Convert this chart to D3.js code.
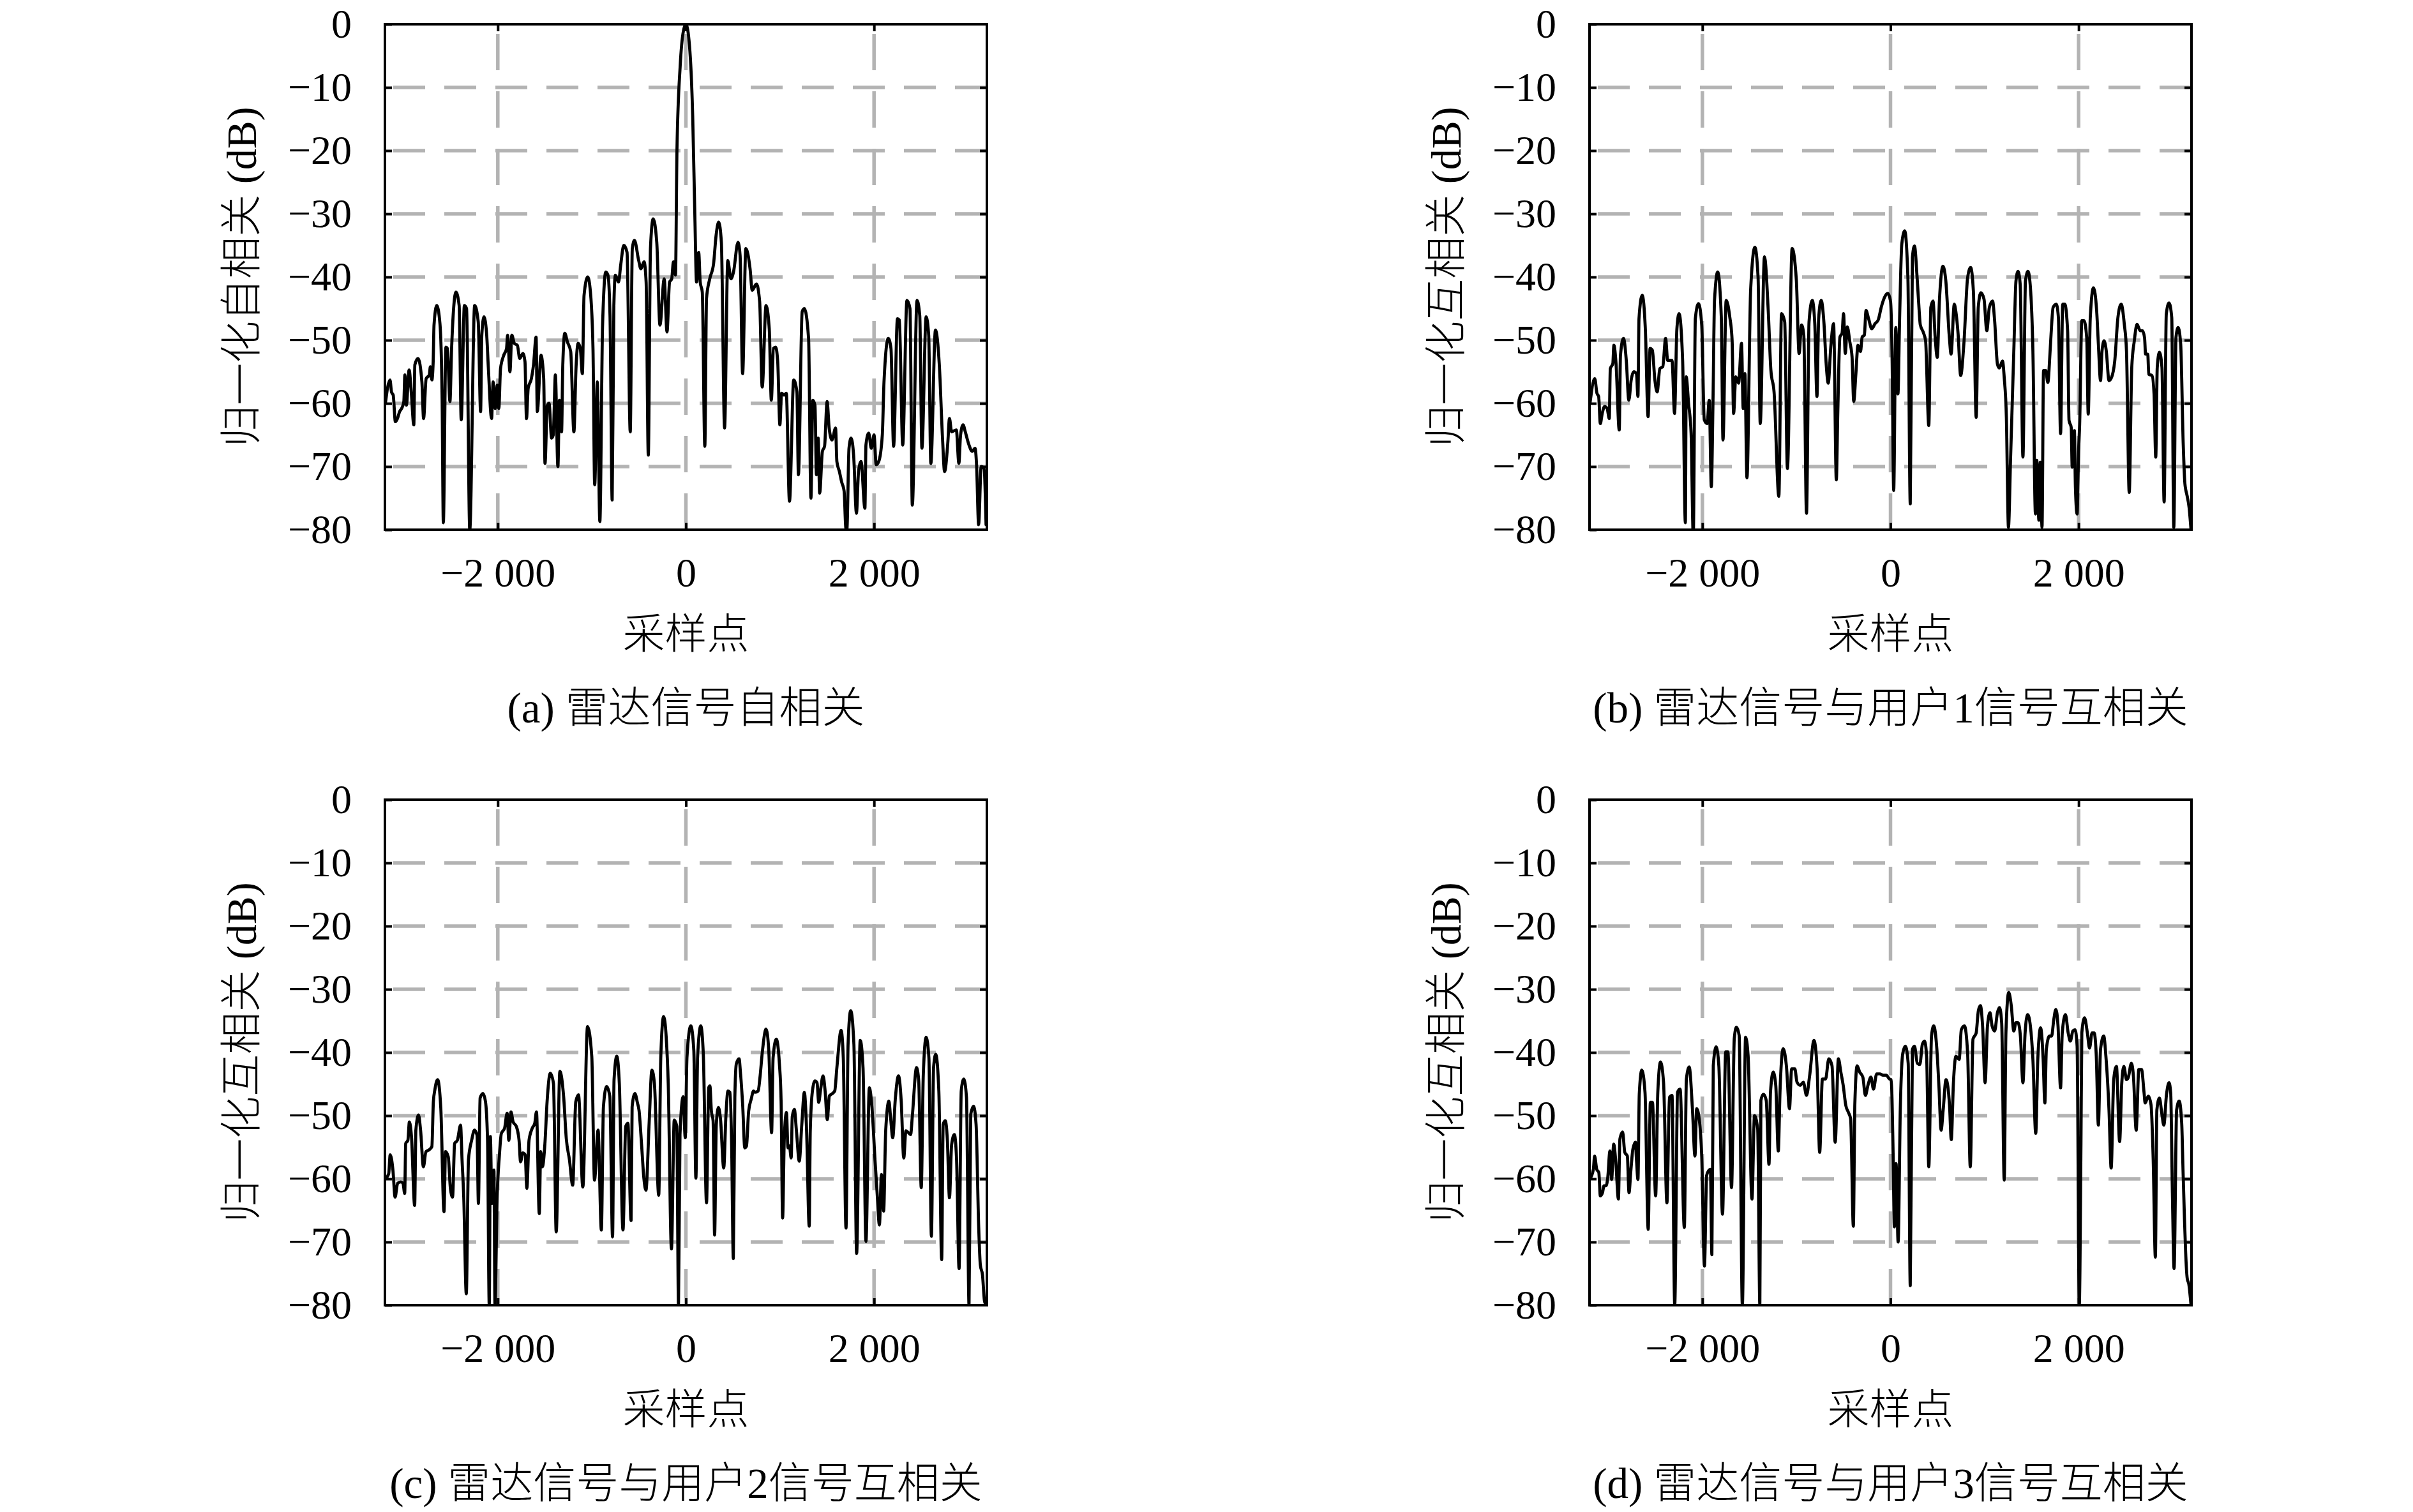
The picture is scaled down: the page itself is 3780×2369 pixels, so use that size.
<!DOCTYPE html>
<html><head><meta charset="utf-8">
<script src="https://cdn.jsdelivr.net/npm/d3@7"></script>
<style>html,body{margin:0;padding:0;background:#fff;}svg{display:block;}</style>
</head><body>
<script>
// ---------------- data ----------------
const xTickValues = [-2000, 0, 2000];
const xTickLabels = ["\u22122 000", "0", "2 000"];
const yTickValues = [0, -10, -20, -30, -40, -50, -60, -70, -80];
const yTickLabels = ["0", "\u221210", "\u221220", "\u221230", "\u221240", "\u221250", "\u221260", "\u221270", "\u221280"];
const xDomain = [-3200, 3200];
const yDomain = [-80, 0];

const captions = ["(a) 雷达信号自相关", "(b) 雷达信号与用户1信号互相关", "(c) 雷达信号与用户2信号互相关", "(d) 雷达信号与用户3信号互相关"];
const yLabels = ["归一化自相关 (dB)", "归一化互相关 (dB)", "归一化互相关 (dB)", "归一化互相关 (dB)"];
const xLabel = "采样点";

const radarAuto = [[-3195,-60],[-3146,-56.3],[-3130,-58.2],[-3112,-58.7],[-3089,-62.9],[-3067,-62.4],[-3044,-61.3],[-3022,-60.8],[-2999,-59.7],[-2988,-55.5],[-2972,-60.3],[-2943,-54.7],[-2920,-58.2],[-2893,-63.4],[-2882,-53.9],[-2848,-52.9],[-2807,-56.6],[-2789,-62.4],[-2762,-56.1],[-2728,-55.5],[-2717,-54.2],[-2701,-56.3],[-2687,-53.4],[-2678,-47.6],[-2649,-44.5],[-2615,-47.4],[-2592,-59.2],[-2579,-78.9],[-2552,-51.1],[-2536,-51.3],[-2509,-59.7],[-2491,-51.3],[-2445,-42.4],[-2411,-44.5],[-2389,-62.6],[-2355,-44.5],[-2332,-45],[-2298,-80],[-2246,-44.5],[-2208,-47.1],[-2183,-61.3],[-2170,-49.2],[-2147,-46.3],[-2118,-49.2],[-2100,-54.5],[-2066,-62.4],[-2050,-56.6],[-2027,-60.8],[-2005,-57.1],[-1989,-60.8],[-1971,-54.5],[-1937,-52.4],[-1907,-51.3],[-1896,-49.2],[-1871,-55],[-1851,-49.2],[-1824,-50.5],[-1792,-50.8],[-1767,-52.9],[-1733,-52.1],[-1711,-53.4],[-1695,-62.4],[-1677,-57.6],[-1643,-56.1],[-1620,-53.9],[-1593,-49.5],[-1580,-61.3],[-1541,-52.4],[-1512,-56.1],[-1498,-69.5],[-1474,-60.3],[-1455,-60],[-1428,-65.5],[-1410,-65],[-1388,-55.5],[-1361,-70],[-1345,-59.5],[-1322,-64.5],[-1309,-53.9],[-1288,-48.9],[-1259,-50.3],[-1225,-51.8],[-1191,-64.5],[-1168,-54.2],[-1146,-50.5],[-1123,-51.3],[-1101,-55.3],[-1083,-42.9],[-1044,-40],[-1015,-42.4],[-988,-51.3],[-970,-72.9],[-942,-56.6],[-915,-78.7],[-886,-47.6],[-852,-39.2],[-829,-39.7],[-807,-46.1],[-784,-75.3],[-766,-44.5],[-750,-39.7],[-716,-40.8],[-694,-38.2],[-660,-35],[-626,-36.1],[-592,-64.5],[-570,-35.5],[-547,-34.2],[-502,-37.4],[-479,-38.7],[-445,-37.6],[-423,-40.8],[-400,-68.2],[-377,-35.5],[-348,-30.8],[-310,-34.5],[-276,-47.6],[-231,-40.3],[-201,-48.7],[-174,-40.8],[-151,-40.3],[-133,-37.6],[-111,-39.7],[-95,-19.7],[-61,-6.6],[-27,-1.1],[0,0],[38,-3.4],[72,-14.5],[95,-30.3],[113,-40.8],[136,-36.1],[152,-40.8],[174,-42.4],[201,-66.8],[219,-43.4],[253,-40.3],[294,-37.9],[321,-33.4],[348,-31.3],[377,-34.5],[411,-63.9],[445,-37.4],[479,-40.3],[506,-39.2],[554,-34.5],[576,-36.6],[603,-55.3],[637,-35.5],[682,-38.7],[705,-42.1],[750,-41.1],[784,-43.9],[811,-57.4],[852,-44.5],[886,-48.2],[908,-59.5],[931,-51.3],[954,-51.1],[976,-53.4],[999,-63.4],[1017,-58.4],[1044,-58.7],[1067,-58.4],[1101,-75.5],[1146,-56.3],[1180,-58.2],[1196,-71.3],[1236,-45.5],[1259,-45],[1304,-49.7],[1329,-75],[1349,-59.5],[1372,-60.3],[1388,-71.3],[1406,-65.5],[1422,-74.2],[1451,-67.6],[1474,-66.8],[1501,-59.7],[1523,-63.9],[1553,-65.8],[1591,-63.9],[1605,-69.2],[1632,-70.8],[1655,-72.4],[1682,-73.9],[1700,-79.7],[1711,-80],[1734,-67.1],[1756,-65.5],[1783,-68.2],[1813,-77.4],[1835,-70.8],[1862,-69.2],[1903,-76.6],[1914,-66.6],[1943,-64.7],[1971,-67.1],[2000,-65],[2023,-69.7],[2050,-69.2],[2088,-65],[2106,-56.6],[2151,-49.7],[2180,-51.3],[2208,-66.8],[2249,-46.6],[2269,-46.8],[2305,-66.6],[2350,-43.7],[2382,-45],[2407,-76.1],[2457,-43.7],[2486,-46.1],[2509,-67.1],[2554,-46.3],[2581,-49.2],[2604,-69.5],[2653,-48.4],[2694,-53.9],[2728,-65.5],[2750,-70.8],[2784,-66.3],[2802,-62.4],[2825,-64.5],[2875,-64.2],[2902,-69.5],[2920,-65],[2947,-63.4],[2970,-64.5],[3010,-66.6],[3044,-67.6],[3074,-67.1],[3090,-69.7],[3112,-79.2],[3139,-70],[3169,-70.3],[3191,-79.2]];

const crossUser1 = [[-3195,-60],[-3144,-56.1],[-3121,-58.4],[-3103,-58.9],[-3085,-63.2],[-3065,-61.6],[-3040,-60.5],[-3013,-60.8],[-2990,-62.4],[-2979,-54.5],[-2952,-53.7],[-2941,-50.8],[-2918,-53.7],[-2884,-64.2],[-2871,-52.4],[-2839,-49.7],[-2809,-53.2],[-2782,-59.5],[-2757,-56.3],[-2730,-55],[-2701,-55.3],[-2685,-58.9],[-2674,-46.6],[-2640,-42.9],[-2606,-48.4],[-2577,-62.1],[-2556,-51.3],[-2532,-51.6],[-2505,-56.3],[-2481,-58.2],[-2452,-54.5],[-2421,-54.2],[-2391,-49.7],[-2369,-53.2],[-2323,-53.2],[-2296,-61.6],[-2271,-48.2],[-2248,-45.8],[-2210,-53.2],[-2181,-78.9],[-2172,-55.8],[-2147,-60],[-2120,-64.7],[-2097,-81],[-2075,-46.6],[-2041,-44.2],[-2007,-47.6],[-1980,-62.6],[-1950,-63.2],[-1927,-59.5],[-1905,-73.2],[-1887,-59.5],[-1871,-43.7],[-1837,-39.2],[-1799,-46.3],[-1781,-65.8],[-1747,-43.7],[-1709,-46.3],[-1684,-50],[-1668,-61.6],[-1645,-55.8],[-1615,-56.8],[-1584,-50.5],[-1566,-60.8],[-1548,-55.3],[-1526,-71.8],[-1487,-42.1],[-1442,-35.3],[-1408,-40],[-1385,-63.2],[-1340,-36.8],[-1300,-45.3],[-1272,-54.7],[-1238,-58.2],[-1187,-74.7],[-1159,-45.8],[-1125,-47.1],[-1096,-70.3],[-1046,-35.5],[-1001,-40.5],[-972,-52.1],[-945,-47.6],[-922,-49.2],[-893,-77.4],[-866,-47.1],[-832,-43.7],[-805,-47.4],[-782,-58.9],[-764,-46.6],[-737,-43.7],[-707,-47.4],[-684,-53.7],[-662,-56.8],[-635,-51.1],[-605,-47.4],[-576,-72.1],[-560,-61.1],[-538,-49.5],[-515,-48.9],[-499,-45.8],[-481,-52.1],[-459,-47.9],[-432,-50.3],[-409,-52.6],[-391,-59.7],[-368,-55.3],[-346,-50.8],[-319,-51.8],[-301,-49.5],[-278,-49.2],[-260,-45.3],[-233,-46.6],[-199,-48.2],[-165,-47.4],[-131,-46.8],[-97,-44.7],[-63,-43.2],[-29,-42.6],[0,-43.8],[16,-51.7],[34,-73.8],[56,-48],[79,-58.5],[97,-46.4],[120,-34.8],[151,-32.7],[185,-40.1],[210,-75.9],[233,-36.9],[255,-35.1],[283,-40.1],[305,-45.4],[316,-47.5],[350,-48.8],[373,-50.1],[407,-63.5],[429,-44.8],[452,-43.8],[475,-49.6],[497,-52.7],[520,-43.8],[558,-38.3],[588,-40.6],[626,-49.6],[644,-52.2],[678,-44.3],[694,-45.4],[719,-49.1],[746,-55.6],[780,-50.6],[820,-40.1],[852,-38.5],[881,-42.2],[911,-62.2],[933,-44.8],[961,-42.5],[994,-43.5],[1024,-48.5],[1051,-44.8],[1085,-43.8],[1107,-46.9],[1137,-53.8],[1157,-54.4],[1191,-53.3],[1209,-55.9],[1232,-62.2],[1254,-79.6],[1277,-68.5],[1311,-51.7],[1334,-40.6],[1356,-39.1],[1379,-41.2],[1408,-68.5],[1435,-40.6],[1462,-39.1],[1485,-41.2],[1514,-51.7],[1541,-77.5],[1555,-69],[1578,-78.5],[1593,-69.3],[1611,-79.6],[1627,-54.8],[1650,-54.8],[1673,-56.7],[1695,-52.2],[1707,-49.1],[1729,-44.8],[1763,-44.3],[1785,-46.4],[1808,-64.8],[1831,-44.3],[1853,-44.3],[1883,-48.5],[1898,-62.7],[1921,-63.8],[1932,-70.1],[1955,-64.3],[1966,-73.3],[1984,-77.5],[2000,-67.5],[2011,-63.3],[2034,-46.9],[2057,-46.9],[2086,-49.6],[2102,-61.7],[2124,-46.4],[2158,-41.7],[2192,-45.4],[2210,-50.6],[2233,-56.4],[2249,-51.7],[2271,-50.1],[2294,-51.7],[2323,-56.4],[2350,-55.9],[2384,-53.3],[2418,-46.4],[2452,-44.3],[2486,-47.5],[2509,-51.7],[2538,-74.1],[2565,-54.3],[2592,-50.1],[2621,-47.5],[2655,-48.5],[2678,-48.5],[2701,-49.6],[2712,-52.2],[2735,-52.2],[2746,-55.4],[2780,-55.6],[2802,-58.5],[2820,-68.5],[2836,-54.3],[2859,-51.9],[2886,-54.3],[2909,-75.6],[2932,-45.9],[2961,-44.1],[2990,-46.4],[3012,-79.6],[3035,-49.6],[3058,-48],[3085,-50.6],[3112,-66.4],[3130,-72.7],[3153,-74.6],[3174,-76.4],[3195,-80]];

const crossUser2 = [[-3195,-60],[-3160,-59.2],[-3144,-56.2],[-3115,-58.6],[-3092,-62.9],[-3065,-60.7],[-3031,-60.5],[-3008,-60.7],[-2990,-62.3],[-2979,-54.4],[-2956,-53.9],[-2940,-51],[-2918,-53.3],[-2884,-64.2],[-2871,-52.3],[-2843,-49.9],[-2821,-52.3],[-2791,-58.1],[-2764,-55.7],[-2730,-55.4],[-2701,-54.9],[-2685,-47.8],[-2669,-45.9],[-2640,-44.3],[-2606,-48.8],[-2572,-65.2],[-2556,-55.7],[-2527,-56.5],[-2504,-61.5],[-2481,-62.9],[-2459,-54.4],[-2430,-53.9],[-2396,-51.5],[-2380,-57],[-2362,-62.9],[-2335,-78.2],[-2312,-57],[-2278,-53.9],[-2248,-52.3],[-2221,-53.1],[-2206,-63.9],[-2188,-47.2],[-2158,-46.5],[-2131,-47.8],[-2109,-53.9],[-2091,-80],[-2079,-53.3],[-2063,-63.9],[-2041,-58.6],[-2030,-80],[-2007,-62.9],[-1984,-56.5],[-1962,-52.8],[-1928,-52],[-1901,-49.6],[-1883,-53.9],[-1860,-49.4],[-1837,-51],[-1803,-51.7],[-1774,-53.9],[-1758,-57.3],[-1735,-55.9],[-1709,-56.2],[-1691,-61.5],[-1668,-53.9],[-1634,-52],[-1607,-51.2],[-1589,-49.4],[-1559,-65.5],[-1544,-55.7],[-1526,-58.1],[-1499,-54.4],[-1476,-47.8],[-1442,-43.3],[-1408,-44.9],[-1379,-68.4],[-1340,-43],[-1300,-47],[-1272,-53.6],[-1238,-57],[-1204,-61],[-1171,-47.8],[-1142,-46.7],[-1096,-61.3],[-1046,-35.9],[-1001,-40.6],[-972,-60.2],[-934,-52.3],[-899,-68.1],[-877,-48.6],[-843,-45.4],[-809,-46.9],[-780,-69.2],[-764,-44.3],[-735,-40.6],[-708,-44.9],[-669,-68.1],[-640,-51.7],[-617,-51.2],[-583,-66.6],[-572,-48.6],[-542,-46.5],[-515,-48],[-499,-49.1],[-470,-54.9],[-447,-59.9],[-425,-61.8],[-391,-51.2],[-362,-42.8],[-335,-44.9],[-289,-62.6],[-267,-40.6],[-237,-34.3],[-210,-37.5],[-188,-44.9],[-154,-71.1],[-124,-50.7],[-97,-51.7],[-79,-80],[-63,-53],[-29,-47],[-7,-53.5],[11,-40.8],[52,-35.8],[84,-39.7],[106,-59.9],[124,-40.8],[158,-35.8],[185,-40.3],[219,-63.8],[242,-45.6],[255,-45.3],[271,-49.3],[289,-50.8],[305,-68.9],[323,-51.4],[346,-48.7],[368,-50.6],[402,-58.3],[425,-50.1],[447,-46.1],[468,-46.3],[486,-54.6],[504,-72.6],[520,-47.1],[536,-41.8],[565,-41],[581,-43.4],[603,-48.2],[626,-55.1],[644,-54.8],[667,-49.3],[694,-47.4],[719,-46.1],[735,-46.3],[768,-46.1],[787,-44],[814,-39.7],[852,-36.3],[881,-39.7],[911,-52.7],[927,-40.8],[961,-37.9],[994,-41.8],[1012,-47.7],[1028,-66.2],[1046,-53.5],[1069,-49.5],[1085,-55.1],[1101,-54.8],[1119,-56.7],[1131,-50.1],[1153,-49],[1175,-52.4],[1205,-57.2],[1232,-51.4],[1259,-46.3],[1282,-51.9],[1311,-67.5],[1322,-52.4],[1345,-46.1],[1372,-44.5],[1394,-44.8],[1412,-47.9],[1430,-46.1],[1458,-43.7],[1480,-46.1],[1503,-50.6],[1525,-46.9],[1548,-46.6],[1582,-46.1],[1605,-42.4],[1650,-36.5],[1673,-40.8],[1702,-67.8],[1724,-38.7],[1752,-33.4],[1786,-38.7],[1815,-71.8],[1853,-38.1],[1883,-42.4],[1914,-69.9],[1950,-45.6],[1978,-48.7],[2011,-57.2],[2034,-62.5],[2057,-67.3],[2079,-59.3],[2102,-65.1],[2124,-52.4],[2158,-47.7],[2176,-50.3],[2199,-53.5],[2226,-47.4],[2260,-43.7],[2289,-47.7],[2316,-56.7],[2339,-52.4],[2366,-52.7],[2389,-53],[2407,-50.1],[2452,-42.4],[2475,-44.5],[2502,-61.4],[2524,-43.4],[2554,-37.6],[2583,-40.8],[2610,-69.1],[2633,-42.4],[2656,-40.3],[2689,-46.1],[2719,-72.8],[2735,-51.4],[2757,-50.8],[2780,-54],[2802,-63],[2825,-54.6],[2854,-53],[2877,-56.7],[2904,-74.2],[2927,-46.1],[2954,-44.2],[2983,-47.1],[3010,-80],[3028,-49.8],[3058,-48.5],[3085,-51.4],[3112,-67.3],[3130,-73.6],[3153,-75.2],[3175,-79.4],[3195,-80]];

const crossUser3 = [[-3195,-60],[-3159,-58.5],[-3146,-56.4],[-3123,-58.5],[-3101,-59],[-3085,-62.7],[-3062,-62.2],[-3046,-61.1],[-3024,-61.1],[-3006,-59.8],[-2983,-55.6],[-2965,-60.1],[-2943,-54.5],[-2920,-57.4],[-2893,-63.2],[-2877,-53.7],[-2848,-52.6],[-2825,-55.8],[-2798,-56.4],[-2780,-62.2],[-2762,-59],[-2739,-55.3],[-2712,-54.2],[-2701,-56.9],[-2685,-60.1],[-2671,-46.6],[-2644,-42.8],[-2610,-46.3],[-2576,-68],[-2553,-47.9],[-2531,-47.9],[-2497,-62.7],[-2474,-46.3],[-2445,-41.5],[-2413,-44.7],[-2377,-63.8],[-2350,-47.1],[-2323,-46.8],[-2294,-80],[-2264,-46.3],[-2237,-45.8],[-2192,-67.7],[-2170,-44.2],[-2140,-42.3],[-2106,-48.9],[-2079,-56.4],[-2061,-48.9],[-2034,-50.5],[-2007,-56.4],[-1978,-73.8],[-1955,-59.5],[-1933,-58.7],[-1915,-58.5],[-1899,-72],[-1884,-42.1],[-1854,-39.1],[-1825,-42.1],[-1786,-65.6],[-1752,-39.9],[-1729,-39.9],[-1690,-61.4],[-1661,-37.8],[-1638,-36],[-1609,-37.3],[-1575,-80],[-1541,-37.6],[-1514,-40.5],[-1473,-63.2],[-1446,-50],[-1412,-52.1],[-1389,-80],[-1378,-47.6],[-1351,-46.6],[-1321,-47.6],[-1292,-57.7],[-1276,-46.3],[-1247,-43.1],[-1220,-45.2],[-1193,-55.6],[-1175,-46.3],[-1141,-39.4],[-1107,-42.1],[-1074,-48.9],[-1051,-42.6],[-1017,-42.6],[-994,-44.7],[-960,-45.2],[-927,-44.7],[-893,-46.8],[-859,-43.6],[-814,-38.1],[-780,-42.6],[-753,-55.8],[-724,-44.2],[-690,-44.2],[-656,-41],[-622,-42.1],[-588,-54.2],[-554,-41],[-528,-43.1],[-503,-45.2],[-475,-48.4],[-447,-49.5],[-424,-50.5],[-395,-67.5],[-379,-48.1],[-355,-42.1],[-328,-43.1],[-294,-43.9],[-267,-46.8],[-240,-45.2],[-208,-43.9],[-181,-45.8],[-147,-43.4],[-113,-43.4],[-79,-43.6],[-45,-43.6],[-11,-44.2],[7,-44.3],[29,-57],[41,-67.6],[59,-57.6],[81,-70],[104,-49.1],[131,-40.1],[158,-39],[188,-41.7],[210,-76.9],[233,-39.5],[255,-39],[285,-41.7],[312,-41.9],[339,-38.7],[362,-38.2],[384,-40.6],[407,-58.1],[436,-37.4],[459,-35.8],[493,-39.5],[515,-45.4],[538,-52.3],[560,-49.1],[590,-44.3],[610,-45.4],[628,-48.5],[646,-53.8],[669,-44.8],[696,-40.6],[730,-41.1],[753,-36.4],[786,-35.8],[820,-40.1],[848,-58.1],[877,-37.9],[911,-36.9],[934,-33.4],[956,-32.6],[979,-35.8],[1006,-44.8],[1031,-35.8],[1058,-33.7],[1080,-35.8],[1107,-36.6],[1137,-33.7],[1159,-32.9],[1182,-35.3],[1209,-60.2],[1227,-36.9],[1257,-30.5],[1284,-32.6],[1311,-36.6],[1333,-35.3],[1356,-35.3],[1381,-37.4],[1408,-44.8],[1431,-36.9],[1458,-34],[1487,-35.8],[1514,-41.1],[1544,-52.8],[1566,-41.1],[1596,-36.1],[1623,-41.1],[1641,-48],[1657,-39.5],[1690,-37.4],[1713,-37.4],[1736,-34.8],[1758,-33.2],[1781,-35.8],[1808,-45.6],[1826,-36.9],[1860,-34],[1889,-36.9],[1912,-38.2],[1939,-36.6],[1962,-36.4],[1984,-39],[2007,-80],[2025,-54.4],[2034,-36.9],[2063,-34.5],[2093,-36.9],[2116,-39.3],[2143,-36.9],[2165,-36.9],[2188,-40.6],[2210,-51.5],[2233,-39.5],[2267,-37.4],[2290,-40.6],[2323,-49.1],[2346,-58.3],[2373,-44.3],[2402,-42.2],[2436,-54.1],[2459,-44.8],[2481,-42.2],[2509,-44.3],[2527,-44],[2561,-41.7],[2583,-43.8],[2612,-52.3],[2640,-42.7],[2669,-42.7],[2696,-46.4],[2707,-48],[2741,-46.9],[2770,-48.3],[2793,-57],[2816,-72.4],[2832,-49.1],[2859,-47.2],[2884,-49.6],[2906,-51.5],[2934,-46.7],[2961,-44.8],[2979,-46.4],[2997,-62.3],[3015,-74.2],[3042,-49.1],[3069,-47.7],[3096,-51.2],[3110,-58.6],[3126,-66.6],[3137,-71.3],[3155,-75.8],[3171,-76.6],[3195,-80]];

const seriesList = [radarAuto, crossUser1, crossUser2, crossUser3];

// ---------------- layout ----------------
const W = 3780, H = 2369;
const plotW = 943, plotH = 792;
const origins = [[603, 38], [2490, 38], [603, 1253], [2490, 1253]];
const FONT = "'Liberation Serif','Noto Sans CJK SC',serif";
const GRID = "#b3b3b3";

const svg = d3.select("body").append("svg").attr("width", W).attr("height", H)
  .attr("viewBox", `0 0 ${W} ${H}`);
svg.append("rect").attr("width", W).attr("height", H).attr("fill", "#fff");

const x = d3.scaleLinear().domain(xDomain).range([0, plotW]);
const y = d3.scaleLinear().domain(yDomain).range([plotH, 0]);
const line = d3.line().x(d => x(d[0])).y(d => y(d[1])).curve(d3.curveMonotoneX);

seriesList.forEach((data, i) => {
  const [ox, oy] = origins[i];
  const g = svg.append("g").attr("transform", `translate(${ox},${oy})`);
  const clipId = "clip" + i;
  g.append("clipPath").attr("id", clipId).append("rect").attr("width", plotW).attr("height", plotH);

  // grid
  const inner = yTickValues.filter(v => v > yDomain[0] && v < yDomain[1]);
  g.append("g").selectAll("line").data(inner).join("line")
    .attr("x1", plotW).attr("x2", 0).attr("y1", d => y(d)).attr("y2", d => y(d))
    .attr("stroke", GRID).attr("stroke-width", 5.5).attr("stroke-dasharray", "50 30");
  g.append("g").selectAll("line").data(xTickValues).join("line")
    .attr("x1", d => x(d)).attr("x2", d => x(d)).attr("y1", plotH).attr("y2", 0)
    .attr("stroke", GRID).attr("stroke-width", 5.5).attr("stroke-dasharray", "57 33");

  // curve
  g.append("path").datum(data).attr("clip-path", `url(#${clipId})`)
    .attr("d", line).attr("fill", "none").attr("stroke", "#000")
    .attr("stroke-width", 4.8).attr("stroke-linejoin", "round").attr("stroke-linecap", "round");

  // axes
  const ax = [];
  ax.push(g.append("g").call(d3.axisLeft(y).tickValues(yTickValues)
    .tickFormat((d, k) => yTickLabels[k]).tickSize(-11).tickPadding(52)));
  ax.push(g.append("g").attr("transform", `translate(${plotW},0)`).call(d3.axisRight(y).tickValues(inner)
    .tickFormat("").tickSize(-11)));
  ax.push(g.append("g").attr("transform", `translate(0,${plotH})`).call(d3.axisBottom(x).tickValues(xTickValues)
    .tickFormat((d, k) => xTickLabels[k]).tickSize(-11).tickPadding(44)));
  ax.push(g.append("g").call(d3.axisTop(x).tickValues(xTickValues).tickFormat("").tickSize(-11)));
  ax.forEach(a => {
    a.select(".domain").remove();
    a.selectAll(".tick line").attr("stroke", "#000").attr("stroke-width", 4);
    a.selectAll(".tick text").attr("font-family", FONT).attr("font-size", 64).attr("fill", "#000");
    a.attr("font-family", null).attr("font-size", null);
  });

  // frame
  g.append("rect").attr("width", plotW).attr("height", plotH)
    .attr("fill", "none").attr("stroke", "#000").attr("stroke-width", 4);

  // labels
  g.append("text").attr("transform", `translate(${-225},${plotH / 2}) rotate(-90)`)
    .attr("text-anchor", "middle").attr("dominant-baseline", "central")
    .attr("font-family", FONT).attr("font-weight", 300).attr("font-size", 66).text(yLabels[i]);
  g.append("text").attr("x", plotW / 2).attr("y", plotH + 163)
    .attr("text-anchor", "middle").attr("dominant-baseline", "central")
    .attr("font-family", FONT).attr("font-weight", 300).attr("font-size", 66).text(xLabel);
  g.append("text").attr("x", plotW / 2).attr("y", plotH + 279)
    .attr("text-anchor", "middle").attr("dominant-baseline", "central")
    .attr("font-family", FONT).attr("font-weight", 300).attr("font-size", 67).text(captions[i]);
});
</script>
</body></html>
